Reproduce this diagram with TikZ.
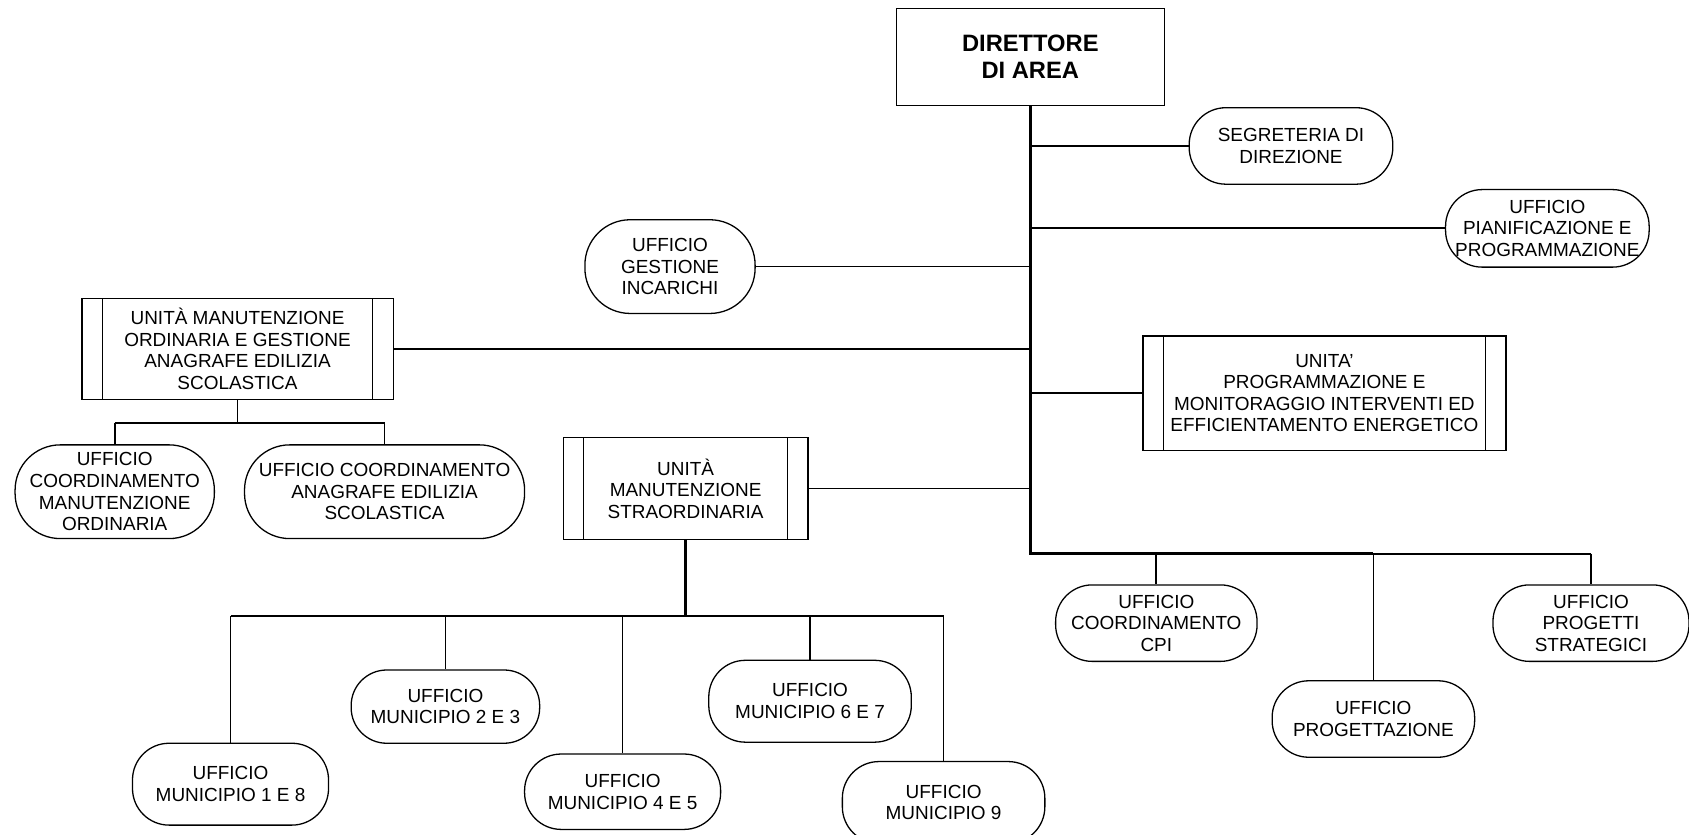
\documentclass[tikz,border=0pt]{standalone}
\usepackage{fontspec}
\setmainfont{Liberation Sans}
\begin{document}
\begin{tikzpicture}[x=0.5pt,y=-0.5pt,
  every node/.style={font=\fontsize{8.8}{10}\selectfont, align=center, inner sep=0pt},
  conn/.style={line width=0.8pt},
  trunkline/.style={line width=1.5pt},
  barline/.style={line width=1.1pt},
  boss/.style={draw, line width=0.6pt, rectangle, font=\fontsize{11}{12.5}\selectfont\bfseries},
  unitbox/.style={draw, line width=0.6pt, rectangle,
    path picture={\draw[line width=0.6pt]
      ([xshift=9.5pt]path picture bounding box.north west) -- ([xshift=9.5pt]path picture bounding box.south west)
      ([xshift=-9.5pt]path picture bounding box.north east) -- ([xshift=-9.5pt]path picture bounding box.south east);}},
  office/.style={draw, line width=0.6pt, rounded corners=17pt},
  small/.style={rounded corners=16.5pt},
  tall/.style={rounded corners=21pt}]
\useasboundingbox (0,0) rectangle (1568,775);

\node[boss, minimum width=124.5pt, minimum height=45pt] (dir) at (956.5,53) {DIRETTORE\\DI AREA};
\node[office, minimum width=94.5pt, minimum height=35.5pt] (seg) at (1198.5,135.5) {SEGRETERIA DI\\DIREZIONE};
\node[office, minimum width=94.5pt, minimum height=36pt] (pian) at (1436.5,212) {UFFICIO\\PIANIFICAZIONE E\\PROGRAMMAZIONE};
\node[office, tall, minimum width=79pt, minimum height=43.5pt] (gest) at (622,247.5) {UFFICIO\\GESTIONE\\INCARICHI};
\node[unitbox, minimum width=144.5pt, minimum height=47pt] (umo) at (220.5,324) {UNITÀ MANUTENZIONE\\ORDINARIA E GESTIONE\\ANAGRAFE EDILIZIA\\SCOLASTICA};
\node[unitbox, minimum width=168.5pt, minimum height=53pt] (upm) at (1229.5,365) {UNITA’\\PROGRAMMAZIONE E\\MONITORAGGIO INTERVENTI ED\\EFFICIENTAMENTO ENERGETICO};
\node[unitbox, minimum width=113.5pt, minimum height=47.5pt] (ums) at (636.5,453.5) {UNITÀ\\MANUTENZIONE\\STRAORDINARIA};
\node[office, tall, minimum width=92.5pt, minimum height=43.5pt] (ucmo) at (106.5,456.5) {UFFICIO\\COORDINAMENTO\\MANUTENZIONE\\ORDINARIA};
\node[office, tall, minimum width=130pt, minimum height=43.5pt] (ucae) at (357,456.5) {UFFICIO COORDINAMENTO\\ANAGRAFE EDILIZIA\\SCOLASTICA};
\node[office, minimum width=91pt, minimum height=38pt] (m18) at (214,728) {UFFICIO\\MUNICIPIO 1 E 8};
\node[office, small, minimum width=87.5pt, minimum height=34pt] (m23) at (413.5,656) {UFFICIO\\MUNICIPIO 2 E 3};
\node[office, minimum width=91pt, minimum height=35pt] (m45) at (578,735) {UFFICIO\\MUNICIPIO 4 E 5};
\node[office, minimum width=94pt, minimum height=38pt] (m67) at (752,651) {UFFICIO\\MUNICIPIO 6 E 7};
\node[office, minimum width=94pt, minimum height=38pt] (m9) at (876,745) {UFFICIO\\MUNICIPIO 9};
\node[office, minimum width=93.5pt, minimum height=35.5pt] (cpi) at (1073.5,578.5) {UFFICIO\\COORDINAMENTO\\CPI};
\node[office, minimum width=94pt, minimum height=35.5pt] (prog) at (1275,667.5) {UFFICIO\\PROGETTAZIONE};
\node[office, minimum width=91pt, minimum height=35.5pt] (strat) at (1477,578.5) {UFFICIO\\PROGETTI\\STRATEGICI};

\coordinate (tend) at (956.5,514);
\coordinate (sbar) at (636.5,572);
\coordinate (obar) at (220.5,393);

% trunk and right bar
\draw[trunkline] (dir.south) -- (tend) -- (prog.north |- tend);
\draw[conn] (prog.north |- tend) -- (strat.north |- tend);
\draw[conn] (cpi.north |- tend) -- (cpi.north);
\draw[conn] (prog.north |- tend) -- (prog.north);
\draw[conn] (strat.north |- tend) -- (strat.north);

% side branches
\draw[conn] (dir.south |- seg) -- (seg.west);
\draw[conn] (dir.south |- pian) -- (pian.west);
\draw[conn] (gest.east) -- (dir.south |- gest);
\draw[conn] (umo.east) -- (dir.south |- umo);
\draw[conn] (dir.south |- upm) -- (upm.west);
\draw[conn] (ums.east) -- (dir.south |- ums);

% ordinaria children
\draw[conn] (umo.south) -- (obar);
\draw[conn] (ucmo.north |- obar) -- (ucae.north |- obar);
\draw[conn] (ucmo.north |- obar) -- (ucmo.north);
\draw[conn] (ucae.north |- obar) -- (ucae.north);

% straordinaria children
\draw[trunkline] (ums.south) -- (sbar);
\draw[barline] (m18.north |- sbar) -- (m9.north |- sbar);
\draw[conn] (m18.north |- sbar) -- (m18.north);
\draw[conn] (m23.north |- sbar) -- (m23.north);
\draw[conn] (m45.north |- sbar) -- (m45.north);
\draw[conn] (m67.north |- sbar) -- (m67.north);
\draw[conn] (m9.north |- sbar) -- (m9.north);
\end{tikzpicture}
\end{document}
